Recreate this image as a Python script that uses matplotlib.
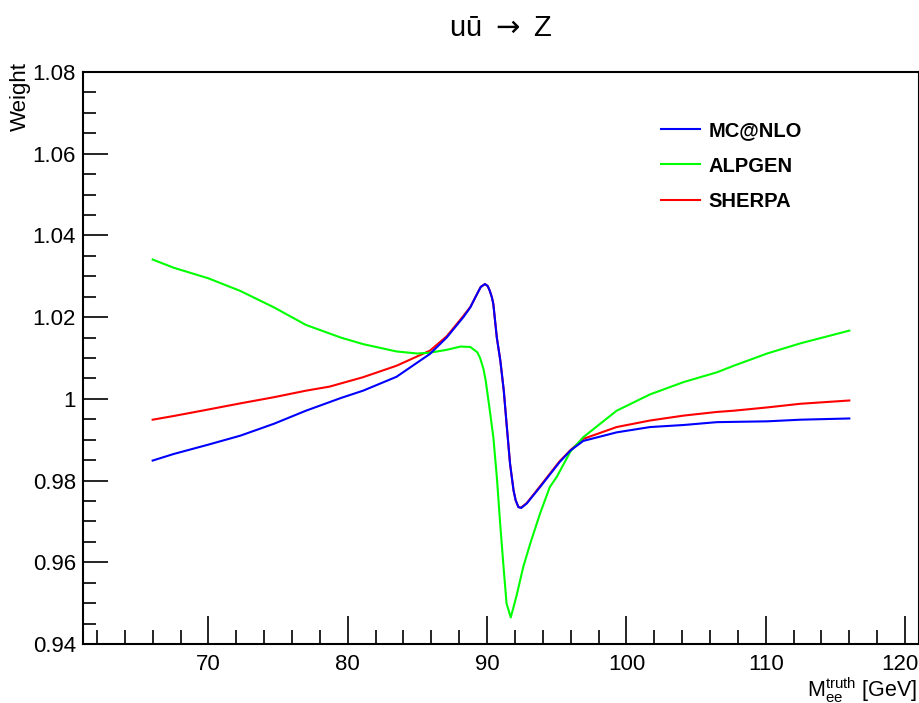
import matplotlib
matplotlib.use("Agg")
import matplotlib.pyplot as plt
from matplotlib.ticker import MultipleLocator, FuncFormatter
from matplotlib.lines import Line2D
from matplotlib.transforms import ScaledTranslation

plt.rcParams['font.family'] = ['Liberation Sans', 'DejaVu Sans']
plt.rcParams['mathtext.fontset'] = 'custom'
plt.rcParams['mathtext.rm'] = 'Liberation Sans'
plt.rcParams['mathtext.it'] = 'Liberation Sans'

# ---- data ----
mcnlo_x = [66, 67.5, 70, 72.3, 74.7, 77, 79.5, 81.1, 83.5, 85.9, 87.1, 88.3, 88.8,
           89.3, 89.55, 89.85, 90.05, 90.2, 90.35, 90.45, 90.7, 90.95, 91.2, 91.4,
           91.65, 91.9, 92.05, 92.25, 92.45, 92.85, 93.8, 95.2, 96.0, 96.9, 99.3,
           101.7, 104.1, 106.5, 110.1, 112.5, 116]
mcnlo_y = [0.9849, 0.9865, 0.9888, 0.9910, 0.9939, 0.9971, 1.0002, 1.0020, 1.0054,
           1.0110, 1.0150, 1.0200, 1.0224, 1.0258, 1.0274, 1.0281, 1.0276, 1.0264,
           1.0248, 1.0232, 1.0150, 1.0094, 1.0020, 0.9939, 0.9841, 0.9776, 0.9752,
           0.9735, 0.9733, 0.9744, 0.9784, 0.9845, 0.9874, 0.9897, 0.9918, 0.9931,
           0.9936, 0.9943, 0.9945, 0.9949, 0.9952]

sherpa_x = [66, 67.5, 70, 72.3, 74.7, 77, 78.7, 81.1, 83.5, 85.9, 87.1, 88.3, 88.8,
            89.3, 89.55, 89.85, 90.05, 90.2, 90.35, 90.45, 90.7, 90.95, 91.2, 91.4,
            91.65, 91.9, 92.05, 92.25, 92.45, 92.85, 93.8, 95.2, 96.0, 96.9, 99.3,
            101.7, 104.1, 106.5, 107.7, 110.1, 112.5, 116]
sherpa_y = [0.9949, 0.9958, 0.9974, 0.9989, 1.0004, 1.0020, 1.0030, 1.0053, 1.0081,
            1.0118, 1.0153, 1.0203, 1.0225, 1.0258, 1.0274, 1.0281, 1.0276, 1.0264,
            1.0248, 1.0232, 1.0150, 1.0094, 1.0020, 0.9939, 0.9841, 0.9776, 0.9752,
            0.9735, 0.9734, 0.9745, 0.9786, 0.9847, 0.9875, 0.9902, 0.9931, 0.9947,
            0.9959, 0.9968, 0.9971, 0.9979, 0.9988, 0.9996]

alpgen_x = [66, 67.5, 70, 72.3, 74.7, 77, 79.5, 81.1, 83.5, 85.0, 85.9, 87.1, 88.1,
            88.8, 89.3, 89.5, 89.75, 89.9, 90.2, 90.45, 90.7, 90.95, 91.2, 91.4,
            91.7, 92.1, 92.6, 93.1, 93.8, 94.5, 95.0, 96.0, 96.9, 99.3, 101.7, 104.1,
            106.5, 107.7, 110.1, 112.5, 116]
alpgen_y = [1.0341, 1.0321, 1.0295, 1.0264, 1.0224, 1.0181, 1.0150, 1.0134, 1.0116,
            1.0111, 1.0113, 1.0120, 1.0128, 1.0127, 1.0114, 1.0100, 1.0072, 1.0045,
            0.9971, 0.9906, 0.9809, 0.9690, 0.9581, 0.9499, 0.9465, 0.9516, 0.9589,
            0.9646, 0.9719, 0.9784, 0.9809, 0.9872, 0.9906, 0.9971, 1.0011, 1.0041,
            1.0065, 1.0081, 1.0111, 1.0136, 1.0167]

labels = ["MC@NLO", "ALPGEN", "SHERPA"]
colors = ["#0000ff", "#00ff00", "#ff0000"]

title = "u\u016b $\\rightarrow$ Z"

# ---- figure ----
W, H = 920, 703
fig = plt.figure(figsize=(W / 100, H / 100), dpi=100)
ax = fig.add_axes([83 / W, 1 - 644 / H, (919 - 83) / W, (644 - 72) / H])

ax.plot(sherpa_x, sherpa_y, color=colors[2], lw=1.5, zorder=2)
ax.plot(alpgen_x, alpgen_y, color=colors[1], lw=1.5, zorder=3)
ax.plot(mcnlo_x, mcnlo_y, color=colors[0], lw=1.5, zorder=4)

ax.set_xlim(61, 121)
ax.set_ylim(0.94, 1.08)

ax.xaxis.set_major_locator(MultipleLocator(10))
ax.xaxis.set_minor_locator(MultipleLocator(2))
ax.yaxis.set_major_locator(MultipleLocator(0.02))
ax.yaxis.set_minor_locator(MultipleLocator(0.005))
fmt = FuncFormatter(lambda v, p: "%g" % round(v, 4))
ax.xaxis.set_major_formatter(fmt)
ax.yaxis.set_major_formatter(fmt)

ax.tick_params(which='both', direction='in', top=False, right=False,
               width=1.2, color='black')
ax.tick_params(axis='y', which='major', length=18, pad=5, labelsize=16)
ax.tick_params(axis='y', which='minor', length=9.5)
ax.tick_params(axis='x', which='major', length=20, pad=7, labelsize=16)
ax.tick_params(axis='x', which='minor', length=10)
for s in ax.spines.values():
    s.set_linewidth(1.5)

fig.text(501 / W, 1 - 28 / H, title, ha='center', va='center', fontsize=21,
         math_fontfamily='dejavusans')
fig.text(20 / W, 1 - 62 / H, "Weight", rotation=90, ha='center', va='top', fontsize=16)
fig.text(917 / W, 1 - 690 / H, r"$\mathregular{M_{ee}^{truth}}$ [GeV]",
         ha='right', va='center', fontsize=15.5)

handles = [Line2D([], [], color=c, lw=1.5) for c in colors]
leg = ax.legend(handles, labels, loc='upper left',
                bbox_to_anchor=(661 / W, 1 - 121 / H), bbox_transform=fig.transFigure,
                frameon=False, borderpad=0, borderaxespad=0, handlelength=1.95,
                handletextpad=0.4, labelspacing=0.82,
                prop={'weight': 'bold', 'size': 14.5})

# keep the last x tick label ("120") inside the canvas, as in the reference
fig.canvas.draw()
for tick in ax.xaxis.get_major_ticks():
    if abs(tick.get_loc() - 120) < 1e-6:
        lab = tick.label1
        lab.set_transform(lab.get_transform() +
                          ScaledTranslation(-5 / 100, 0, fig.dpi_scale_trans))

fig.savefig("out.png", dpi=100)
